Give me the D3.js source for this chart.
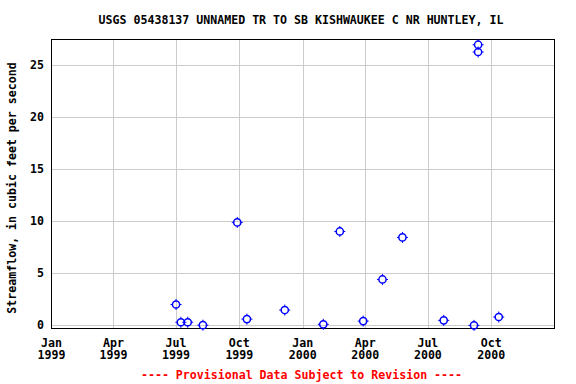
<!DOCTYPE html>
<html><head><meta charset="utf-8">
<script src="https://cdn.jsdelivr.net/npm/d3@7"></script>
<style>body{margin:0;background:#fff}svg text{font-family:"DejaVu Sans Mono",monospace;font-weight:bold}</style>
</head><body><svg id="c" width="576" height="384"></svg>
<script>
const dates = ["1999-07-01","1999-07-08","1999-07-18","1999-08-09","1999-09-28","1999-10-12","1999-12-06","2000-01-31","2000-02-24","2000-03-29","2000-04-26","2000-05-25","2000-07-24","2000-09-06","2000-09-12","2000-09-12","2000-10-12"];
const flows = [2.0,0.3,0.3,0.02,9.87,0.6,1.47,0.1,9.0,0.41,4.4,8.43,0.48,0.0,26.2,26.9,0.8];
const yTicks = [0,5,10,15,20,25];
const xTickDates = ["1999-01-01","1999-04-01","1999-07-01","1999-10-01","2000-01-01","2000-04-01","2000-07-01","2000-10-01"];
const xTickLabels = [["Jan","1999"],["Apr","1999"],["Jul","1999"],["Oct","1999"],["Jan","2000"],["Apr","2000"],["Jul","2000"],["Oct","2000"]];
const title = "USGS 05438137 UNNAMED TR TO SB KISHWAUKEE C NR HUNTLEY, IL";
const yLabel = "Streamflow, in cubic feet per second";
const footer = "---- Provisional Data Subject to Revision ----";

const parse = d3.utcParse("%Y-%m-%d");
const L=51.5, R=554.5, T=39.5, B=328.5;
const svg = d3.select("#c");
const x = d3.scaleUtc().domain([parse("1999-01-01"), parse("2001-01-01")]).range([L,R]);
const y = d3.scaleLinear().domain([-0.3,27.4]).range([B,T]);

// grid
svg.append("g").selectAll("line").data(xTickDates.slice(1)).join("line")
  .attr("x1",d=>Math.round(x(parse(d)))+0.5).attr("x2",d=>Math.round(x(parse(d)))+0.5)
  .attr("y1",T).attr("y2",B).attr("stroke","#cccccc").attr("stroke-width",1);
svg.append("g").selectAll("line").data(yTicks).join("line")
  .attr("x1",L).attr("x2",R).attr("y1",d=>Math.round(y(d))+0.5).attr("y2",d=>Math.round(y(d))+0.5)
  .attr("stroke","#cccccc").attr("stroke-width",1);

// border
svg.append("rect").attr("x",L).attr("y",T).attr("width",R-L).attr("height",B-T)
  .attr("fill","none").attr("stroke","#000").attr("stroke-width",1);

// y ticks labels
svg.append("g").selectAll("text").data(yTicks).join("text")
  .attr("x",44).attr("y",d=>y(d)+4).attr("text-anchor","end").attr("font-size",11.6).text(d=>d);

// x labels
const xl = svg.append("g").selectAll("text").data(xTickDates).join("text")
  .attr("text-anchor","middle").attr("font-size",11.6);
xl.append("tspan").attr("x",d=>x(parse(d))).attr("y",346.5).text((d,i)=>xTickLabels[i][0]);
xl.append("tspan").attr("x",d=>x(parse(d))).attr("y",359).text((d,i)=>xTickLabels[i][1]);

// points
const pts = svg.append("g").selectAll("g").data(dates.map((d,i)=>({d:parse(d),v:flows[i]}))).join("g")
  .attr("transform",d=>`translate(${x(d.d)},${y(d.v)})`);
pts.append("circle").attr("r",3.6).attr("fill","none").attr("stroke","#0000ff").attr("stroke-width",1.5);
pts.append("path").attr("d","M0,-5.5V-3.6M0,3.6V5.5M-5.5,0H-3.6M3.6,0H5.5").attr("stroke","#0000ff").attr("stroke-width",1);

// title
svg.append("text").attr("x",301).attr("y",24).attr("text-anchor","middle").attr("font-size",11.6).text(title);
// y label
svg.append("text").attr("transform","translate(16,188) rotate(-90)").attr("text-anchor","middle").attr("font-size",11.6).text(yLabel);
// footer
svg.append("text").attr("x",301.5).attr("y",379).attr("text-anchor","middle").attr("font-size",11.6).attr("fill","#ff0000").text(footer);
</script></body></html>
